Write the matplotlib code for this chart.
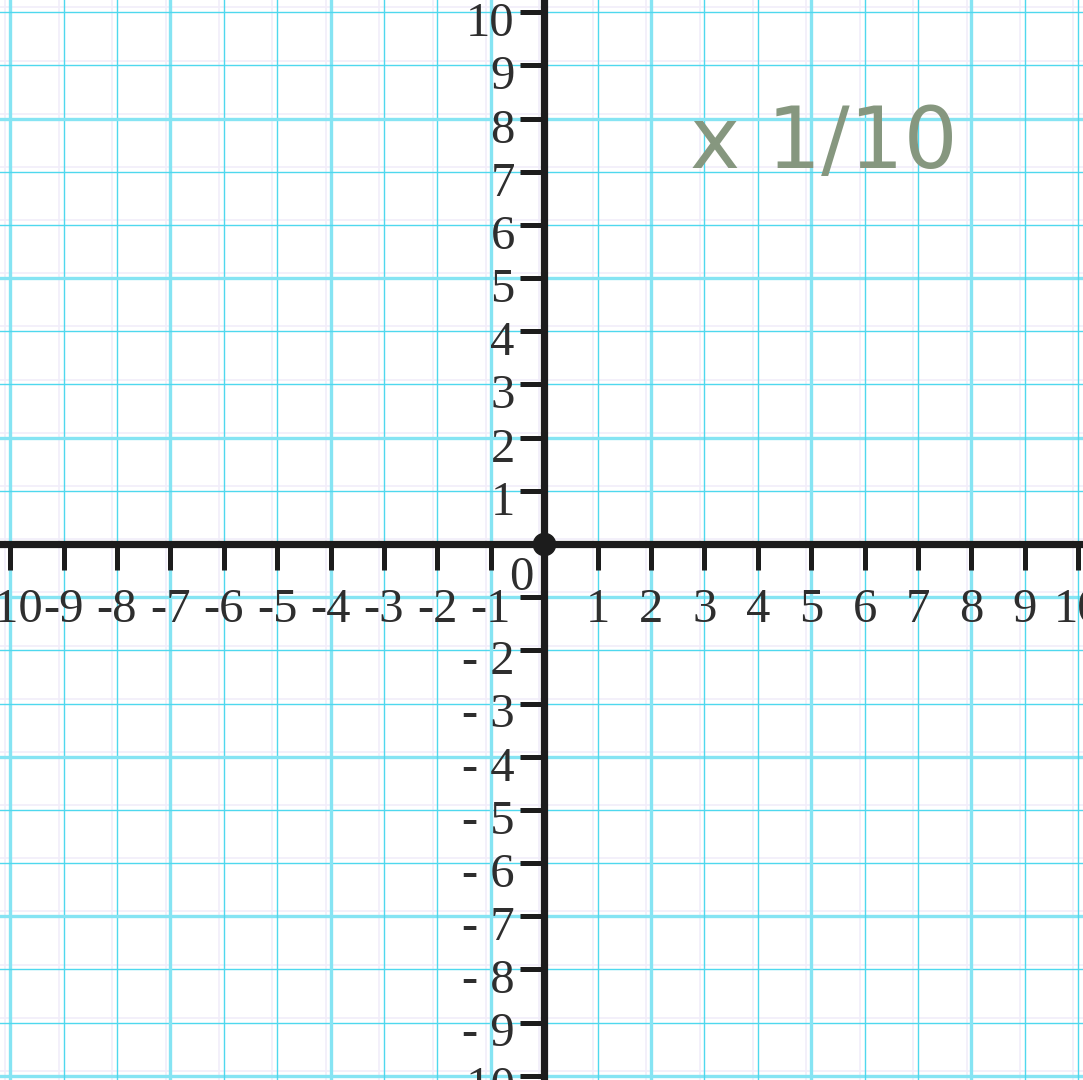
import numpy as np
import matplotlib
matplotlib.use("Agg")
import matplotlib.pyplot as plt

# ---- data ----
x_ticks = [-10, -9, -8, -7, -6, -5, -4, -3, -2, -1, 1, 2, 3, 4, 5, 6, 7, 8, 9, 10]
y_ticks = [-10, -9, -8, -7, -6, -5, -4, -3, -2, -1, 1, 2, 3, 4, 5, 6, 7, 8, 9, 10]
x_tick_labels = ["-10", "-9", "-8", "-7", "-6", "-5", "-4", "-3", "-2", "-1",
                 "1", "2", "3", "4", "5", "6", "7", "8", "9", "10"]
y_tick_labels = ["- 10", "- 9", "- 8", "- 7", "- 6", "- 5", "- 4", "- 3", "- 2", "",
                 "1", "2", "3", "4", "5", "6", "7", "8", "9", "10"]
origin_label = "0"
scale_note = "x 1/10"

# ---- figure ----
fig = plt.figure(figsize=(10.83, 10.80), dpi=100)
ax = fig.add_axes([0, 0, 1, 1])
ax.set_xlim(-10.19, 10.09)
ax.set_ylim(-10.08, 10.23)

thin_c = "#4fd8ee"
thick_c = "#86e4f3"
faint_c = "#f1edfa"

grid_pos = np.arange(-11, 12)
for g in grid_pos:
    # faint lavender companion lines
    ax.axvline(g - 0.09, color=faint_c, lw=1.2, zorder=0)
    ax.axhline(g + 0.09, color=faint_c, lw=1.2, zorder=0)
    heavy = (g + 10) % 3 == 0
    ax.axvline(g, color=thick_c if heavy else thin_c,
               lw=2.4 if heavy else 1.0, zorder=1)
    ax.axhline(g, color=thick_c if heavy else thin_c,
               lw=2.4 if heavy else 1.0, zorder=1)

# ---- axes lines at zero ----
axis_c = "#1c1c1c"
for s in ["top", "right"]:
    ax.spines[s].set_visible(False)
ax.spines["left"].set_position(("data", 0))
ax.spines["bottom"].set_position(("data", 0))
for s in ["left", "bottom"]:
    ax.spines[s].set_linewidth(5.2)
    ax.spines[s].set_color(axis_c)
    ax.spines[s].set_zorder(5)

ax.set_xticks(x_ticks)
ax.set_yticks(y_ticks)
ax.tick_params(axis="x", direction="out", length=19, width=3.6, color=axis_c,
               labelbottom=False)
ax.tick_params(axis="y", direction="out", length=17.5, width=3.6, color=axis_c,
               labelleft=False)
for t in ax.xaxis.get_major_ticks() + ax.yaxis.get_major_ticks():
    t.tick1line.set_zorder(5)

ax.plot([0], [0], "o", color=axis_c, markersize=16, zorder=6, clip_on=False)

# ---- labels ----
lab_c = "#2e2e2e"
fkw = dict(family="Liberation Serif", fontsize=35, color=lab_c, zorder=7)
for v, lab in zip(x_ticks, x_tick_labels):
    ax.text(v, -1.466, lab, ha="center", va="baseline", **fkw)
for v, lab in zip(y_ticks, y_tick_labels):
    if lab:
        ax.text(-0.55, v - 0.45, lab, ha="right", va="baseline", **fkw)
ax.text(-0.43, -0.865, origin_label, ha="center", va="baseline", **fkw)

ax.text(2.73, 7.07, scale_note, ha="left", va="baseline",
        family="DejaVu Sans", fontsize=61, color="#86977f", zorder=7)

fig.savefig("out.png", dpi=100)
